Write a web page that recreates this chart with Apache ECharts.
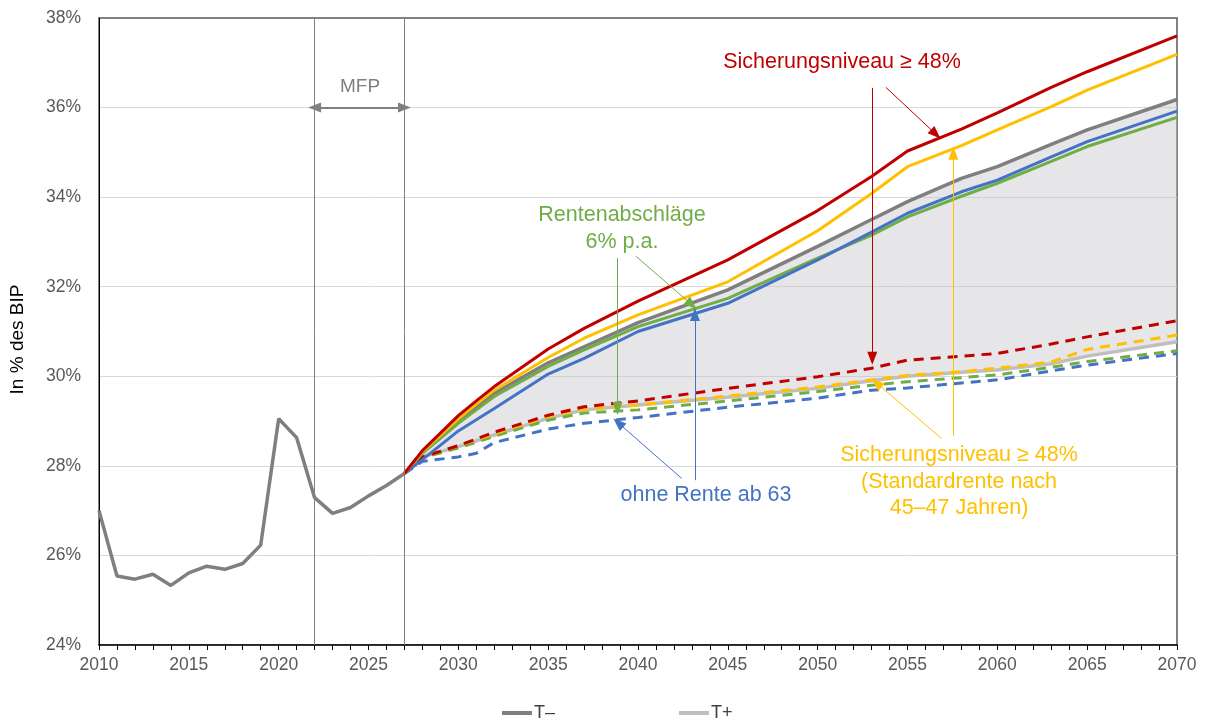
<!DOCTYPE html>
<html>
<head>
<meta charset="utf-8">
<script src="https://cdn.jsdelivr.net/npm/echarts@6/dist/echarts.min.js"></script>
<style>
  html, body { margin: 0; padding: 0; background: #fff; }
  #chart { width: 1210px; height: 724px; }
</style>
</head>
<body>
<div id="chart"></div>
<script>
// Ausgabenquote in % des BIP, Basispfad T– (historisch + Projektion) und T+
const histYears = [2010, 2011, 2012, 2013, 2014, 2015, 2016, 2017, 2018, 2019, 2020, 2021, 2022, 2023, 2024, 2025, 2026, 2027];
const histTminus = [27.00, 25.54, 25.47, 25.58, 25.33, 25.61, 25.76, 25.69, 25.82, 26.23, 29.05, 28.63, 27.29, 26.94, 27.07, 27.33, 27.56, 27.83];

const projYears = [2027, 2028, 2030, 2031, 2032, 2035, 2037, 2040, 2045, 2050, 2053, 2055, 2058, 2060, 2063, 2065, 2070];
const tMinus      = [27.83, 28.30, 28.98, 29.30, 29.62, 30.30, 30.66, 31.20, 31.93, 32.90, 33.50, 33.90, 34.42, 34.68, 35.18, 35.50, 36.18];
const tPlus       = [27.83, 28.20, 28.43, 28.56, 28.69, 29.06, 29.25, 29.36, 29.53, 29.73, 29.90, 30.00, 30.09, 30.14, 30.28, 30.45, 30.77];

// Reformvarianten unter T– (durchgezogen)
const niveauTm    = [27.83, 28.34, 29.12, 29.45, 29.77, 30.61, 31.07, 31.68, 32.60, 33.70, 34.46, 35.03, 35.52, 35.88, 36.45, 36.80, 37.60];
const standardTm  = [27.83, 28.32, 29.05, 29.38, 29.69, 30.42, 30.85, 31.37, 32.11, 33.25, 34.08, 34.68, 35.15, 35.50, 36.02, 36.39, 37.19];
const abschlagTm  = [27.83, 28.28, 28.95, 29.25, 29.55, 30.22, 30.59, 31.11, 31.74, 32.64, 33.15, 33.56, 34.02, 34.31, 34.80, 35.13, 35.78];
const ohne63Tm    = [27.83, 28.14, 28.78, 29.03, 29.28, 30.05, 30.40, 31.00, 31.63, 32.60, 33.22, 33.64, 34.12, 34.38, 34.90, 35.24, 35.92];

// Reformvarianten unter T+ (gestrichelt)
const niveauTp    = [27.83, 28.20, 28.45, 28.60, 28.75, 29.13, 29.32, 29.45, 29.73, 29.99, 30.18, 30.36, 30.45, 30.51, 30.72, 30.88, 31.24];
const standardTp  = [27.83, 28.20, 28.45, 28.58, 28.72, 29.10, 29.27, 29.36, 29.56, 29.76, 29.92, 30.02, 30.10, 30.18, 30.32, 30.60, 30.92];
const abschlagTp  = [27.83, 28.18, 28.40, 28.53, 28.66, 29.02, 29.18, 29.25, 29.45, 29.66, 29.80, 29.88, 29.97, 30.03, 30.20, 30.33, 30.57];
const ohne63Tp    = [27.83, 28.10, 28.20, 28.28, 28.52, 28.82, 28.95, 29.08, 29.31, 29.51, 29.69, 29.74, 29.85, 29.92, 30.12, 30.25, 30.51];

const yTicks = { min: 24, max: 38, step: 2 };
const xTicks = { min: 2010, max: 2070, step: 5 };
const mfpYears = [2022, 2027];

const C = {
  tMinus: '#7f7f7f', tPlus: '#bfbfbf', red: '#c00000', yellow: '#ffc000',
  green: '#70ad47', blue: '#4472c4', band: 'rgba(196,192,200,0.42)', text: '#595959'
};
const FONT = '"Liberation Sans", Arial, sans-serif';
const NOTE_FONT = '21.5px ' + FONT;

const pairs = (xs, ys) => xs.map((x, i) => [x, ys[i]]);
const tMinusAll = pairs(histYears, histTminus).concat(pairs(projYears.slice(1), tMinus.slice(1)));

function arrow(from, to) {
  return [{ coord: from, symbol: 'none' }, { coord: to, symbol: 'triangle' }];
}
function arrowMarks(color, list) {
  return {
    silent: true, animation: false, symbolSize: [10, 13], precision: 4,
    label: { show: false }, emphasis: { disabled: true },
    lineStyle: { color: color, width: 1, type: 'solid', opacity: 1 },
    data: list
  };
}

function line(name, data, color, width, dashed, extra) {
  return Object.assign({
    name: name, type: 'line', data: data, symbol: 'none', smooth: false,
    lineStyle: { color: color, width: width, type: dashed ? [10, 7] : 'solid', cap: 'butt' },
    itemStyle: { color: color },
    emphasis: { disabled: true }, animation: false, z: 3
  }, extra || {});
}

function noteText(x, y, text, color, lineHeight) {
  return {
    type: 'text', x: x, y: y, silent: true, z: 10,
    style: {
      text: text, fill: color, font: NOTE_FONT, lineHeight: lineHeight || 27,
      align: 'center', verticalAlign: 'middle', textAlign: 'center', textVerticalAlign: 'middle'
    }
  };
}

const chart = echarts.init(document.getElementById('chart'), null, { renderer: 'canvas' });

const option = {
  backgroundColor: '#fff',
  animation: false,
  grid: {
    left: 99, right: 33, top: 18, bottom: 79,
    show: true, borderColor: '#595959', borderWidth: 1.5, backgroundColor: 'transparent'
  },
  legend: {
    data: ['T–', 'T+'],
    left: 497, top: 699,
    icon: 'rect', itemWidth: 30, itemHeight: 4, itemGap: 124,
    textStyle: { fontFamily: FONT, fontSize: 18, color: '#404040', padding: [0, 0, 0, -3] },
    selectedMode: false
  },
  xAxis: {
    type: 'value', min: xTicks.min, max: xTicks.max, interval: xTicks.step,
    axisLine: { show: true, onZero: false, lineStyle: { color: '#000', width: 1.5 } },
    axisTick: { show: true, length: 5, inside: false, lineStyle: { color: '#000' } },
    minorTick: { show: true, splitNumber: 5, length: 5, lineStyle: { color: '#000' } },
    splitLine: { show: false },
    axisLabel: { fontFamily: FONT, fontSize: 17.5, color: C.text, margin: 11, formatter: v => String(v) }
  },
  yAxis: {
    type: 'value', min: yTicks.min, max: yTicks.max, interval: yTicks.step,
    name: 'In % des BIP', nameLocation: 'middle', nameRotate: 90, nameGap: 72,
    nameTextStyle: { fontFamily: FONT, fontSize: 19, color: '#000', padding: [0, 16, 0, 0] },
    axisLine: { show: true, lineStyle: { color: '#000', width: 1 } },
    axisTick: { show: false },
    splitLine: { show: true, showMaxLine: false, lineStyle: { color: '#d9d9d9', width: 1 } },
    axisLabel: { fontFamily: FONT, fontSize: 17.5, color: C.text, margin: 18, formatter: '{value}%' }
  },
  series: [
    // grauer Korridor zwischen T– (oben) und T+ (unten)
    {
      name: 'Korridor', type: 'custom', silent: true, z: 1, animation: false,
      data: [[projYears[0], tPlus[0]]],
      renderItem: function (params, api) {
        const upper = projYears.map((yr, i) => api.coord([yr, tMinus[i]]));
        const lower = projYears.map((yr, i) => api.coord([yr, tPlus[i]])).reverse();
        return { type: 'polygon', shape: { points: upper.concat(lower) }, style: { fill: C.band } };
      }
    },

    line('T+', pairs(projYears, tPlus), C.tPlus, 3.5, false, {
      markLine: {
        silent: true, animation: false, symbolSize: [10, 13], precision: 4,
        label: { show: false }, emphasis: { disabled: true },
        lineStyle: { color: '#808080', width: 2, type: 'solid' },
        data: [[{ coord: [mfpYears[0], 36], symbol: 'triangle' }, { coord: [mfpYears[1], 36], symbol: 'triangle' }]]
      }
    }),
    line('ohne63Tp', pairs(projYears, ohne63Tp), C.blue, 3, true),
    line('abschlagTp', pairs(projYears, abschlagTp), C.green, 3, true),
    line('standardTp', pairs(projYears, standardTp), C.yellow, 3, true),
    line('niveauTp', pairs(projYears, niveauTp), C.red, 3, true),

    line('T–', tMinusAll, C.tMinus, 3.5, false, {
      markLine: {
        silent: true, animation: false, symbol: 'none', precision: 4,
        label: { show: false }, emphasis: { disabled: true },
        lineStyle: { color: '#808080', width: 1, type: 'solid' },
        data: [{ xAxis: mfpYears[0] }, { xAxis: mfpYears[1] }]
      }
    }),
    line('abschlagTm', pairs(projYears, abschlagTm), C.green, 3, false, {
      markLine: arrowMarks(C.green, [
        arrow([2038.86, 32.64], [2038.86, 29.28]),
        arrow([2039.89, 32.68], [2042.99, 31.60])
      ])
    }),
    line('ohne63Tm', pairs(projYears, ohne63Tm), C.blue, 3, false, {
      markLine: arrowMarks(C.blue, [
        arrow([2042.43, 27.72], [2038.90, 28.96]),
        arrow([2043.17, 27.68], [2043.17, 31.38])
      ])
    }),
    line('standardTm', pairs(projYears, standardTm), C.yellow, 3, false, {
      markLine: arrowMarks(C.yellow, [
        arrow([2056.90, 28.61], [2053.28, 29.85]),
        arrow([2057.55, 28.67], [2057.55, 34.98])
      ])
    }),
    line('niveauTm', pairs(projYears, niveauTm), C.red, 3, false, {
      markLine: arrowMarks(C.red, [
        arrow([2053.04, 36.44], [2053.04, 30.40]),
        arrow([2053.80, 36.45], [2056.57, 35.41])
      ])
    })
  ],
  graphic: [
    {
      type: 'text', x: 360, y: 87, silent: true, z: 10,
      style: { text: 'MFP', fill: '#7f7f7f', font: '19px ' + FONT, align: 'center', verticalAlign: 'middle', textAlign: 'center', textVerticalAlign: 'middle' }
    },
    noteText(842, 62, 'Sicherungsniveau ≥ 48%', C.red),
    noteText(622, 229, 'Rentenabschläge\n6% p.a.', C.green, 27),
    noteText(706, 495, 'ohne Rente ab 63', C.blue),
    noteText(959, 482, 'Sicherungsniveau ≥ 48%\n(Standardrente nach\n45–47 Jahren)', C.yellow, 26.5)
  ]
};

chart.setOption(option);
</script>
</body>
</html>
